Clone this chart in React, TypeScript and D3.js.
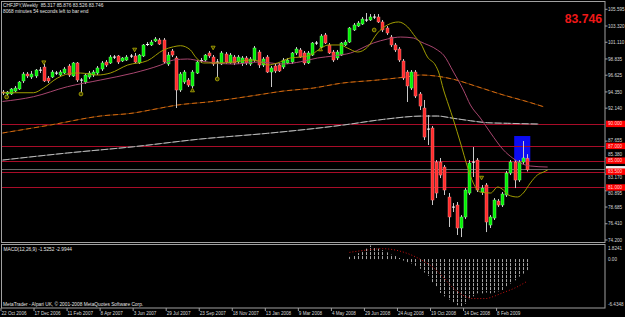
import React, { useEffect, useRef } from "react";
import * as d3 from "d3";

const W = 625;
const H = 317;

// weekly bars [open, high, low, close], bar 0 = week of 22 Oct 2006
const candles: [number, number, number, number][] = [
  [94.34, 94.61, 93.93, 94.2], [94.07, 94.47, 93.79, 94.34], [94.07, 94.88, 93.93, 94.75], [94.47, 95.16, 94.34, 94.88], [94.75, 95.84, 94.61, 95.7],
  [95.84, 97.06, 95.56, 96.79], [96.79, 97.06, 96.24, 96.52], [96.38, 97.2, 96.11, 96.79], [96.52, 97.47, 96.24, 97.33], [97.33, 97.74, 96.92, 97.3],
  [97.74, 98.15, 95.7, 95.84], [96.24, 96.52, 95.56, 95.84], [96.38, 97.33, 96.24, 97.06], [96.92, 97.2, 96.65, 96.9], [96.65, 97.33, 96.52, 97.06],
  [96.92, 97.74, 96.79, 97.47], [97.88, 98.15, 96.38, 96.65], [96.52, 98.42, 96.38, 98.29], [98.29, 98.42, 95.7, 95.97], [95.97, 96.24, 93.93, 95.95],
  [95.7, 96.79, 95.43, 96.65], [96.38, 97.2, 96.11, 96.92], [96.65, 97.33, 96.38, 97.06], [96.92, 97.88, 96.65, 97.61], [97.47, 98.56, 97.2, 98.29],
  [98.42, 98.69, 97.74, 98.01], [98.29, 99.37, 98.15, 99.1], [99.1, 99.37, 98.83, 99.08], [99.24, 99.37, 98.15, 98.42], [98.56, 99.1, 98.42, 98.97],
  [98.69, 99.37, 98.56, 99.1], [99.24, 99.51, 98.97, 99.22], [99.24, 99.65, 98.29, 98.42], [98.29, 99.51, 98.15, 99.37], [99.24, 100.87, 99.1, 100.74],
  [100.74, 101.14, 100.6, 100.87], [100.74, 101.42, 100.6, 101.14], [101.28, 101.82, 101.14, 101.55], [101.42, 101.69, 100.74, 100.87], [101.42, 101.69, 98.15, 98.42],
  [98.15, 99.78, 97.88, 99.37], [99.92, 100.19, 99.1, 99.37], [98.97, 99.24, 92.16, 94.61], [94.61, 97.06, 94.34, 96.79], [95.7, 97.33, 95.43, 97.06],
  [95.97, 96.24, 95.02, 95.29], [95.16, 97.33, 94.88, 97.06], [96.92, 98.69, 96.79, 98.42], [98.56, 98.97, 98.29, 98.69], [98.69, 99.51, 98.42, 99.37],
  [99.65, 99.92, 98.97, 99.24], [99.1, 99.37, 97.88, 98.15], [98.42, 98.83, 96.11, 98.4], [98.15, 99.92, 98.01, 99.65], [99.51, 99.78, 98.15, 98.42],
  [98.29, 99.65, 98.15, 99.37], [99.1, 99.37, 98.01, 98.29], [98.42, 99.37, 98.15, 99.1], [98.29, 99.24, 97.88, 98.97], [98.97, 99.24, 98.01, 98.29],
  [98.15, 99.1, 97.88, 98.83], [98.69, 100.6, 98.42, 100.33], [99.78, 100.06, 97.61, 98.01], [98.01, 99.1, 97.74, 98.83], [99.1, 99.37, 96.92, 97.06],
  [97.06, 97.88, 95.02, 97.61], [97.88, 98.15, 96.92, 97.2], [98.01, 98.29, 97.06, 97.2], [97.74, 98.97, 97.47, 98.69], [98.29, 98.97, 98.15, 98.69],
  [98.42, 99.78, 98.15, 99.65], [99.65, 100.46, 99.37, 100.19], [100.06, 100.33, 98.97, 99.1], [99.65, 99.92, 98.01, 98.29], [98.29, 99.92, 98.15, 99.65],
  [99.37, 101.14, 99.24, 101.01], [101.01, 101.28, 100.74, 100.99], [100.46, 102.23, 100.33, 101.96], [102.1, 102.37, 100.87, 101.01], [100.74, 101.01, 99.51, 99.65],
  [99.78, 100.06, 98.42, 98.69], [98.97, 100.06, 98.69, 99.78], [99.37, 101.14, 99.24, 101.01], [100.74, 101.42, 100.6, 101.14], [101.14, 103.19, 101.01, 103.05],
  [102.78, 103.73, 102.64, 103.46], [103.32, 104.0, 103.19, 103.73], [103.59, 104.55, 103.46, 104.27], [104.14, 105.09, 103.87, 104.12], [104.14, 104.95, 104.0, 104.55],
  [104.55, 104.95, 104.27, 104.53], [104.55, 104.95, 103.73, 103.87], [103.87, 104.14, 102.5, 102.78], [103.05, 103.32, 102.1, 102.37], [101.82, 102.1, 100.46, 100.74],
  [100.74, 101.01, 99.78, 100.06], [100.19, 100.46, 98.42, 98.69], [98.56, 98.83, 95.97, 96.24], [97.06, 97.33, 92.98, 95.16], [94.88, 97.33, 94.61, 97.06],
  [97.06, 97.33, 93.52, 93.79], [94.07, 94.34, 91.89, 92.43], [92.16, 93.25, 87.81, 88.21], [89.3, 91.21, 87.13, 89.28], [89.44, 89.71, 78.96, 79.64],
  [84.81, 85.08, 79.91, 80.59], [84.81, 85.36, 82.63, 83.04], [84.13, 84.4, 80.32, 81.0], [80.05, 80.59, 75.97, 77.33], [78.69, 79.23, 78.01, 78.67],
  [78.96, 79.37, 74.88, 75.83], [75.83, 77.6, 74.6, 77.33], [77.33, 81.27, 77.05, 81.0], [80.59, 85.08, 80.32, 84.67], [84.81, 86.85, 82.77, 84.79],
  [85.08, 85.36, 80.73, 81.0], [80.73, 81.68, 80.32, 81.27], [81.68, 81.95, 75.28, 76.65], [76.24, 77.6, 75.83, 77.33], [77.19, 79.91, 76.92, 79.64],
  [79.5, 79.78, 78.69, 78.96], [78.96, 80.73, 78.69, 80.46], [80.32, 83.59, 80.05, 83.31], [83.31, 85.08, 83.04, 84.81], [84.81, 85.08, 81.27, 82.36],
  [82.36, 85.08, 82.09, 84.81], [84.81, 87.67, 84.54, 85.36], [85.317, 85.876, 83.526, 83.746],
];

const dateLabels = [
  "22 Oct 2006", "17 Dec 2006", "11 Feb 2007", "8 Apr 2007", "3 Jun 2007", "29 Jul 2007", "23 Sep 2007", "18 Nov 2007",
  "13 Jan 2008", "9 Mar 2008", "4 May 2008", "29 Jun 2008", "24 Aug 2008", "19 Oct 2008", "14 Dec 2008", "8 Feb 2009",
];
const dateStep = 8;

const priceTicks = [105.595, 103.32, 101.11, 98.835, 96.625, 94.35, 92.14, 87.655, 85.38, 83.17, 80.895, 78.685, 76.41, 74.2];
const levels = [90, 87, 85, 83.5, 81.35];
const levelLabels = ["90.000", "87.000", "85.000", "83.500", "81.000"];
const lastPrice = 83.746;

// moving averages: [bar, price]
const fastMA: [number, number][] = [
  [0, 94.24], [7.5, 94.24], [9.9, 94.88], [13.3, 96.24], [17.2, 96.92], [18.9, 96.92], [23, 96.65], [26.1, 96.92], [30.3, 98.01],
  [35.1, 98.6], [39, 100.06], [41.4, 100.5], [43.1, 100.64], [45.5, 100.06], [46.7, 99.14], [48.7, 98.29], [52.1, 98.29], [55.9, 98.42],
  [60, 98.69], [62, 98.56], [64.2, 98.01], [66.6, 98.29], [69.7, 98.97], [72.2, 99.1], [74.6, 99.37], [76.5, 100.06], [78.9, 100.74],
  [81.8, 100.74], [83.5, 100.33], [86, 99.78], [88.4, 100.46], [90.8, 102.37], [93.2, 103.46], [95.9, 103.87], [98.1, 103.19], [100, 101.82],
  [101.2, 101.01], [102.9, 99.1], [104.8, 98.01], [105.6, 97.06], [106.8, 94.61], [108, 92.57], [109.2, 90.53], [110.9, 87.4], [112.6, 84.13],
  [114, 81.95], [115.7, 80.73], [118.2, 80.59], [119.9, 81.41], [121.3, 81.0], [122.5, 80.32], [124.7, 80.05], [126.1, 80.59], [127.8, 81.95],
  [129.5, 83.04], [131, 83.45], [132, 83.72],
];
const slowMA: [number, number][] = [
  [0, 93.05], [7.5, 93.7], [15.7, 95.06], [23.7, 95.97], [31.7, 96.92], [38.3, 98.01], [41.4, 98.69], [44.8, 98.83], [47.9, 98.56],
  [55.9, 98.15], [62, 98.42], [68, 98.15], [72.2, 98.46], [76.3, 98.97], [80.1, 99.24], [84.3, 99.65], [89.8, 101.01], [93.2, 101.55],
  [96.4, 101.82], [99.5, 101.69], [101.2, 101.19], [105.3, 100.06], [106.8, 99.37], [109.2, 97.06], [111.6, 94.61], [113.3, 92.57],
  [115.7, 90.8], [118.2, 88.76], [121.3, 86.45], [123.5, 85.36], [125.4, 84.67], [127.8, 84.27], [132, 84.13],
];
const longMA: [number, number][] = [
  [0, 88.76], [11.6, 89.85], [23.7, 91.07], [31.7, 91.48], [35.8, 91.89], [42.4, 92.57], [50.4, 93.02], [61.7, 93.93], [68, 94.47],
  [75.3, 94.88], [81.8, 95.52], [90.8, 95.97], [98.1, 96.42], [101.2, 96.65], [106.1, 96.42], [109.2, 96.07], [115, 95.06],
  [121.3, 93.93], [127.1, 93.02], [131, 92.34],
];
const trendMA: [number, number][] = [
  [0, 85.08], [15.7, 86.04], [31.7, 86.89], [47.9, 87.94], [64.2, 88.72], [82.6, 89.85], [92.3, 90.62], [101.9, 91.07], [105.3, 91.07],
  [109.2, 90.76], [113.3, 90.43], [117.4, 90.16], [122.3, 90.08], [129.8, 89.98],
];

const fractalDown: [number, number][] = [[10, 98.33], [32, 100.06], [51, 100.33], [116, 82.63]];
const fractalUp: [number, number][] = [[46, 94.61], [77, 100.19]];
const fractalRing: [number, number][] = [[1, 93.66], [19, 94.07], [52, 96.11], [90, 102.78]];

const zone = { from: 123.9, to: 127.8, top: 88.35, bottom: 84.81 };

const macdFirst = 84;
const macdHist = [
  0.3, 0.5, 0.8, 1.1, 1.4, 1.8241, 1.6, 1.4, 1.2, 0.9,
  0.6, 0.4, 0.15, -0.2, -0.5, -0.6, -0.9, -1.3, -1.8, -2.25,
  -3.15, -3.75, -4.55, -5.0, -5.45, -5.9, -6.2, -6.4348, -6.0, -5.4,
  -5.0, -4.6, -4.6, -4.5, -4.6, -4.5, -4.35, -4.15, -3.75, -3.3,
  -2.85, -2.35, -1.95, -1.53,
];
const macdSignal: [number, number][] = [
  [84, 0.9], [88, 1.2], [92, 1.4], [96, 1.1], [100, 0.3], [102, -0.3], [104, -1.0], [107, -2.6], [109, -3.8],
  [112, -5.0], [114, -5.3], [117, -5.3], [119, -5.0], [121, -4.55], [124, -3.9], [127, -2.99],
];
const macdTicks = [1.8241, 0, -6.4348];
const macdTickLabels = ["1.8241", "0.00", "-6.4348"];

export default function App() {
  const ref = useRef<SVGSVGElement>(null);

  useEffect(() => {
    const svg = d3.select(ref.current);
    svg.selectAll("*").remove();
    const font = "'Liberation Sans', Arial, sans-serif";
    const plot = { left: 2, right: 605, top: 2, bottom: 242.5 };
    const sub = { top: 245, bottom: 308 };

    const x = d3.scaleLinear().domain([0, 127]).range([2.5, 527]);
    const y = d3.scaleLinear().domain([74.2, 105.595]).range([240, 9.3]);
    const ym = d3.scaleLinear().domain([-6.4348, 1.8241]).range([307, 245.5]);

    svg.append("rect").attr("width", W).attr("height", H).attr("fill", "#000");

    const defs = svg.append("defs");
    defs.append("clipPath").attr("id", "clipMain").append("rect")
      .attr("x", plot.left).attr("y", plot.top)
      .attr("width", plot.right - plot.left).attr("height", plot.bottom - plot.top);
    defs.append("clipPath").attr("id", "clipSub").append("rect")
      .attr("x", plot.left).attr("y", sub.top)
      .attr("width", plot.right - plot.left).attr("height", sub.bottom - sub.top);

    const main = svg.append("g").attr("clip-path", "url(#clipMain)");

    // blue zone
    main.append("rect")
      .attr("x", x(zone.from)).attr("y", y(zone.top))
      .attr("width", x(zone.to) - x(zone.from)).attr("height", y(zone.bottom) - y(zone.top))
      .attr("fill", "#0c0cf2");

    // horizontal levels
    main.selectAll(".lvl").data(levels).enter().append("line")
      .attr("x1", plot.left).attr("x2", plot.right)
      .attr("y1", (d) => Math.round(y(d)) + 0.5).attr("y2", (d) => Math.round(y(d)) + 0.5)
      .attr("stroke", "#a80c28").attr("stroke-width", 1);

    main.append("line")
      .attr("x1", plot.left).attr("x2", plot.right)
      .attr("y1", Math.round(y(lastPrice)) - 0.5).attr("y2", Math.round(y(lastPrice)) - 0.5)
      .attr("stroke", "#6a6a6a");

    const line = d3.line<[number, number]>()
      .x((d) => x(d[0])).y((d) => y(d[1]))
      .curve(d3.curveMonotoneX);

    // slow grey / orange dashed averages
    main.append("path").attr("d", line(trendMA)).attr("fill", "none").attr("stroke", "#5a5a5a").attr("stroke-width", 1);
    main.append("path").attr("d", line(trendMA)).attr("fill", "none").attr("stroke", "#b8b8b8").attr("stroke-width", 1).attr("stroke-dasharray", "7,2");
    main.append("path").attr("d", line(longMA)).attr("fill", "none").attr("stroke", "#5a2c00").attr("stroke-width", 1);
    main.append("path").attr("d", line(longMA)).attr("fill", "none").attr("stroke", "#d06810").attr("stroke-width", 1).attr("stroke-dasharray", "5,3");

    // candles
    const bars = main.append("g");
    candles.forEach(([o, h, l, c], i) => {
      const cx = Math.round(x(i)) + 0.5;
      bars.append("line")
        .attr("x1", cx).attr("x2", cx).attr("y1", y(h)).attr("y2", y(l))
        .attr("stroke", "#c8c8c8").attr("stroke-width", 1);
      const top = y(Math.max(o, c));
      const bot = y(Math.min(o, c));
      if (bot - top < 1) {
        bars.append("line")
          .attr("x1", cx - 1.5).attr("x2", cx + 1.5).attr("y1", (top + bot) / 2).attr("y2", (top + bot) / 2)
          .attr("stroke", "#ffffff").attr("stroke-width", 1);
      } else {
        bars.append("rect")
          .attr("x", cx - 1.5).attr("y", top).attr("width", 3).attr("height", bot - top)
          .attr("fill", c > o ? "#00f000" : "#ff2a2a")
          .attr("stroke", c > o ? "#9cff9c" : "#ff9a9a").attr("stroke-width", 0.4);
      }
    });

    // faster averages on top
    main.append("path").attr("d", line(slowMA)).attr("fill", "none").attr("stroke", "#a8466f").attr("stroke-width", 1);
    main.append("path").attr("d", line(fastMA)).attr("fill", "none").attr("stroke", "#a09c00").attr("stroke-width", 1);

    // fractal marks
    const mk = main.append("g").attr("fill", "#3c3a00").attr("stroke", "#b4b000").attr("stroke-width", 0.8);
    fractalDown.forEach(([i, p]) => {
      const cx = x(i), cy = y(p);
      mk.append("path").attr("d", `M${cx - 2},${cy - 1.8}L${cx + 2},${cy - 1.8}L${cx},${cy + 1.8}Z`);
    });
    fractalUp.forEach(([i, p]) => {
      const cx = x(i), cy = y(p);
      mk.append("path").attr("d", `M${cx - 2},${cy + 1.8}L${cx + 2},${cy + 1.8}L${cx},${cy - 1.8}Z`);
    });
    fractalRing.forEach(([i, p]) => {
      mk.append("circle").attr("cx", x(i)).attr("cy", y(p)).attr("r", 1.9);
    });

    // MACD window
    const macd = svg.append("g").attr("clip-path", "url(#clipSub)");
    macdHist.forEach((v, k) => {
      const cx = Math.round(x(macdFirst + k)) + 0.5;
      macd.append("line")
        .attr("x1", cx).attr("x2", cx).attr("y1", ym(0)).attr("y2", ym(v))
        .attr("stroke", "#a4a4a4").attr("stroke-width", 1).attr("stroke-dasharray", "3,1");
    });
    const sig = d3.line<[number, number]>().x((d) => x(d[0])).y((d) => ym(d[1])).curve(d3.curveMonotoneX);
    macd.append("path").attr("d", sig(macdSignal)).attr("fill", "none")
      .attr("stroke", "#c81010").attr("stroke-width", 1).attr("stroke-dasharray", "1,2");

    // frames
    const frame = svg.append("g").attr("fill", "none").attr("stroke", "#a0a0a0").attr("stroke-width", 1);
    frame.append("rect").attr("x", plot.left - 0.5).attr("y", plot.top - 0.5)
      .attr("width", plot.right - plot.left + 0.5).attr("height", plot.bottom - plot.top + 0.5);
    frame.append("rect").attr("x", plot.left - 0.5).attr("y", sub.top - 0.5)
      .attr("width", plot.right - plot.left + 0.5).attr("height", sub.bottom - sub.top + 0.5);

    // price axis; labels crowded by a level tag are nudged clear of it
    const axis = svg.append("g").attr("font-family", font).attr("font-size", 4.6).attr("fill", "#d8d8d8");
    priceTicks.forEach((p) => {
      let shift = 0;
      levels.forEach((lv) => {
        const dy = y(p) - y(lv);
        if (Math.abs(dy) < 5.8) shift = Math.sign(dy) * (5.8 - Math.abs(dy));
      });
      axis.append("line").attr("x1", plot.right).attr("x2", plot.right + 2.5)
        .attr("y1", y(p)).attr("y2", y(p)).attr("stroke", "#a0a0a0");
      axis.append("text").attr("x", plot.right + 3).attr("y", y(p) + 1.6 + shift).text(p.toFixed(3));
    });
    // current price tag
    axis.append("rect").attr("x", plot.right + 1).attr("y", y(lastPrice) - 3.8)
      .attr("width", W - plot.right).attr("height", 7).attr("fill", "#f0f0f0");
    levels.forEach((p, k) => {
      axis.append("rect").attr("x", plot.right + 1).attr("y", y(p) - 3.2)
        .attr("width", W - plot.right).attr("height", 6.4).attr("fill", "#ff0000");
      axis.append("text").attr("x", plot.right + 3).attr("y", y(p) + 1.6).attr("fill", "#ffd6d6").text(levelLabels[k]);
    });

    macdTicks.forEach((v, k) => {
      const ty = k === 0 ? sub.top + 5 : k === 2 ? sub.bottom - 2 : ym(v) + 1.6;
      axis.append("text").attr("x", plot.right + 3).attr("y", ty).text(macdTickLabels[k]);
    });

    // time axis
    dateLabels.forEach((t, k) => {
      const bx = x(k * dateStep);
      axis.append("line").attr("x1", bx - 1.5).attr("x2", bx - 1.5).attr("y1", sub.bottom).attr("y2", sub.bottom + 3)
        .attr("stroke", "#a0a0a0");
      axis.append("text").attr("x", bx - 1).attr("y", 315).text(t);
    });

    // captions
    const cap = svg.append("g").attr("font-family", font).attr("fill", "#e4e4e4").attr("font-size", 4.8);
    cap.append("text").attr("x", 3).attr("y", 7).attr("xml:space", "preserve")
      .text("CHFJPY,Weekly  85.317 85.876 83.526 83.746");
    cap.append("text").attr("x", 3).attr("y", 12.5).text("8068 minutes 54 seconds left to bar end");
    cap.append("text").attr("x", 3.5).attr("y", 250.5).text("MACD(12,26,9) -1.5252 -2.9944");
    cap.append("text").attr("x", 3).attr("y", 305.5).text("MetaTrader - Alpari UK, \u00a9 2001-2008 MetaQuotes Software Corp.");

    svg.append("text").attr("x", 602).attr("y", 23.3).attr("text-anchor", "end")
      .attr("font-family", font).attr("font-weight", "bold").attr("font-size", 12.2)
      .attr("fill", "#f01818").text(lastPrice.toFixed(3));
  }, []);

  return (
    <>
      <style>{"body{margin:0;background:#000}"}</style>
      <svg ref={ref} width={W} height={H} style={{ display: "block" }} />
    </>
  );
}
